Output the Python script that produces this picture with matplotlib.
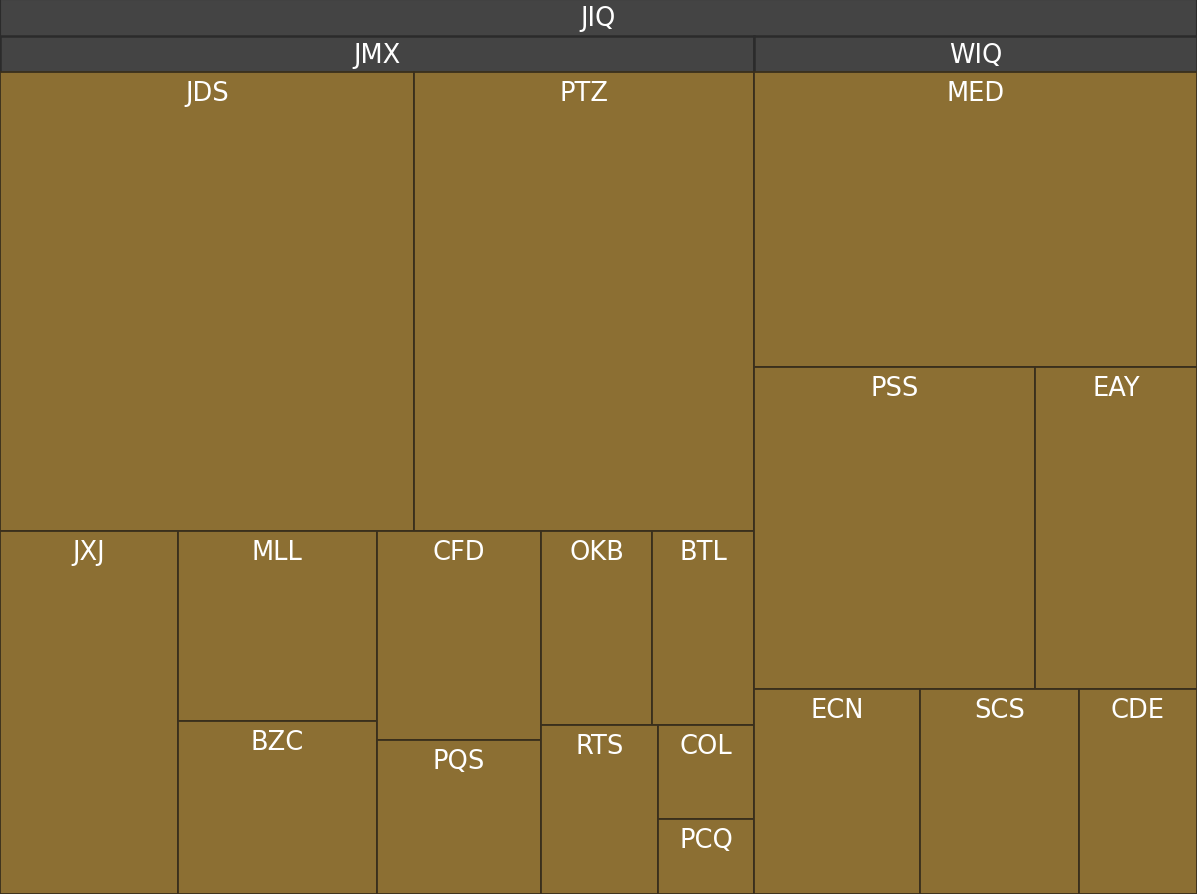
import matplotlib.pyplot as plt
from matplotlib.patches import Rectangle

# treemap hierarchy: root -> groups -> leaves
root_label = "JIQ"
group_labels = ["JMX", "WIQ"]
jmx_labels = ["JDS", "PTZ", "JXJ", "MLL", "BZC", "CFD", "PQS", "OKB", "BTL", "RTS", "COL", "PCQ"]
jmx_values = [1896, 1561, 646, 376, 343, 343, 253, 215, 198, 198, 90, 72]
wiq_labels = ["MED", "PSS", "EAY", "ECN", "SCS", "CDE"]
wiq_values = [1304, 902, 522, 340, 324, 242]

W, H = 1197, 895
HEADER = 36.5
LEAF_COLOR = "#8c6f33"
HEAD_COLOR = "#444444"
LEAF_EDGE = "#3a2f1c"
HEAD_EDGE = "#2b2b2b"


def worst(row, side):
    s = sum(row)
    return max(side * side * max(row) / (s * s), s * s / (side * side * min(row)))


def squarify(values, x, y, w, h):
    total = sum(values)
    areas = [v * w * h / total for v in values]
    rects = []
    i = 0
    while i < len(areas):
        side = min(w, h)
        row = [areas[i]]
        i += 1
        while i < len(areas) and worst(row + [areas[i]], side) <= worst(row, side):
            row.append(areas[i])
            i += 1
        s = sum(row)
        if w >= h:
            cw = s / h
            cy = y
            for a in row:
                rects.append((x, cy, cw, a / cw))
                cy += a / cw
            x += cw
            w -= cw
        else:
            rh = s / w
            cx = x
            for a in row:
                rects.append((cx, y, a / rh, rh))
                cx += a / rh
            y += rh
            h -= rh
    return rects


def label(ax, rect, text, offset):
    x, y, w, h = rect
    ax.text(x + w / 2, y + offset, text, color="white", fontsize=18.5,
            ha="center", va="baseline", family="DejaVu Sans")


fig = plt.figure(figsize=(11.97, 8.95), dpi=100)
fig.patch.set_facecolor("#3a3a3a")
ax = fig.add_axes([0, 0, 1, 1])
ax.set_xlim(0, W)
ax.set_ylim(H, 0)
ax.axis("off")

# root header
ax.add_patch(Rectangle((0, 0), W, H, facecolor=HEAD_COLOR, edgecolor=HEAD_EDGE, lw=1.5))
label(ax, (0, 0, W, H), root_label, 26)

groups = [(jmx_labels, jmx_values), (wiq_labels, wiq_values)]
group_rects = squarify([sum(v) for _, v in groups], 0, HEADER, W, H - HEADER)

for glabel, grect, (labels, values) in zip(group_labels, group_rects, groups):
    gx, gy, gw, gh = grect
    ax.add_patch(Rectangle((gx, gy), gw, gh, facecolor=HEAD_COLOR, edgecolor=HEAD_EDGE, lw=1.8))
    label(ax, grect, glabel, 26)
    leaf_rects = squarify(values, gx, gy + HEADER, gw, gh - HEADER)
    for name, r in zip(labels, leaf_rects):
        ax.add_patch(Rectangle((r[0], r[1]), r[2], r[3], facecolor=LEAF_COLOR,
                               edgecolor=LEAF_EDGE, lw=1.3))
        label(ax, r, name, 28)

fig.savefig("out.png", dpi=100)
